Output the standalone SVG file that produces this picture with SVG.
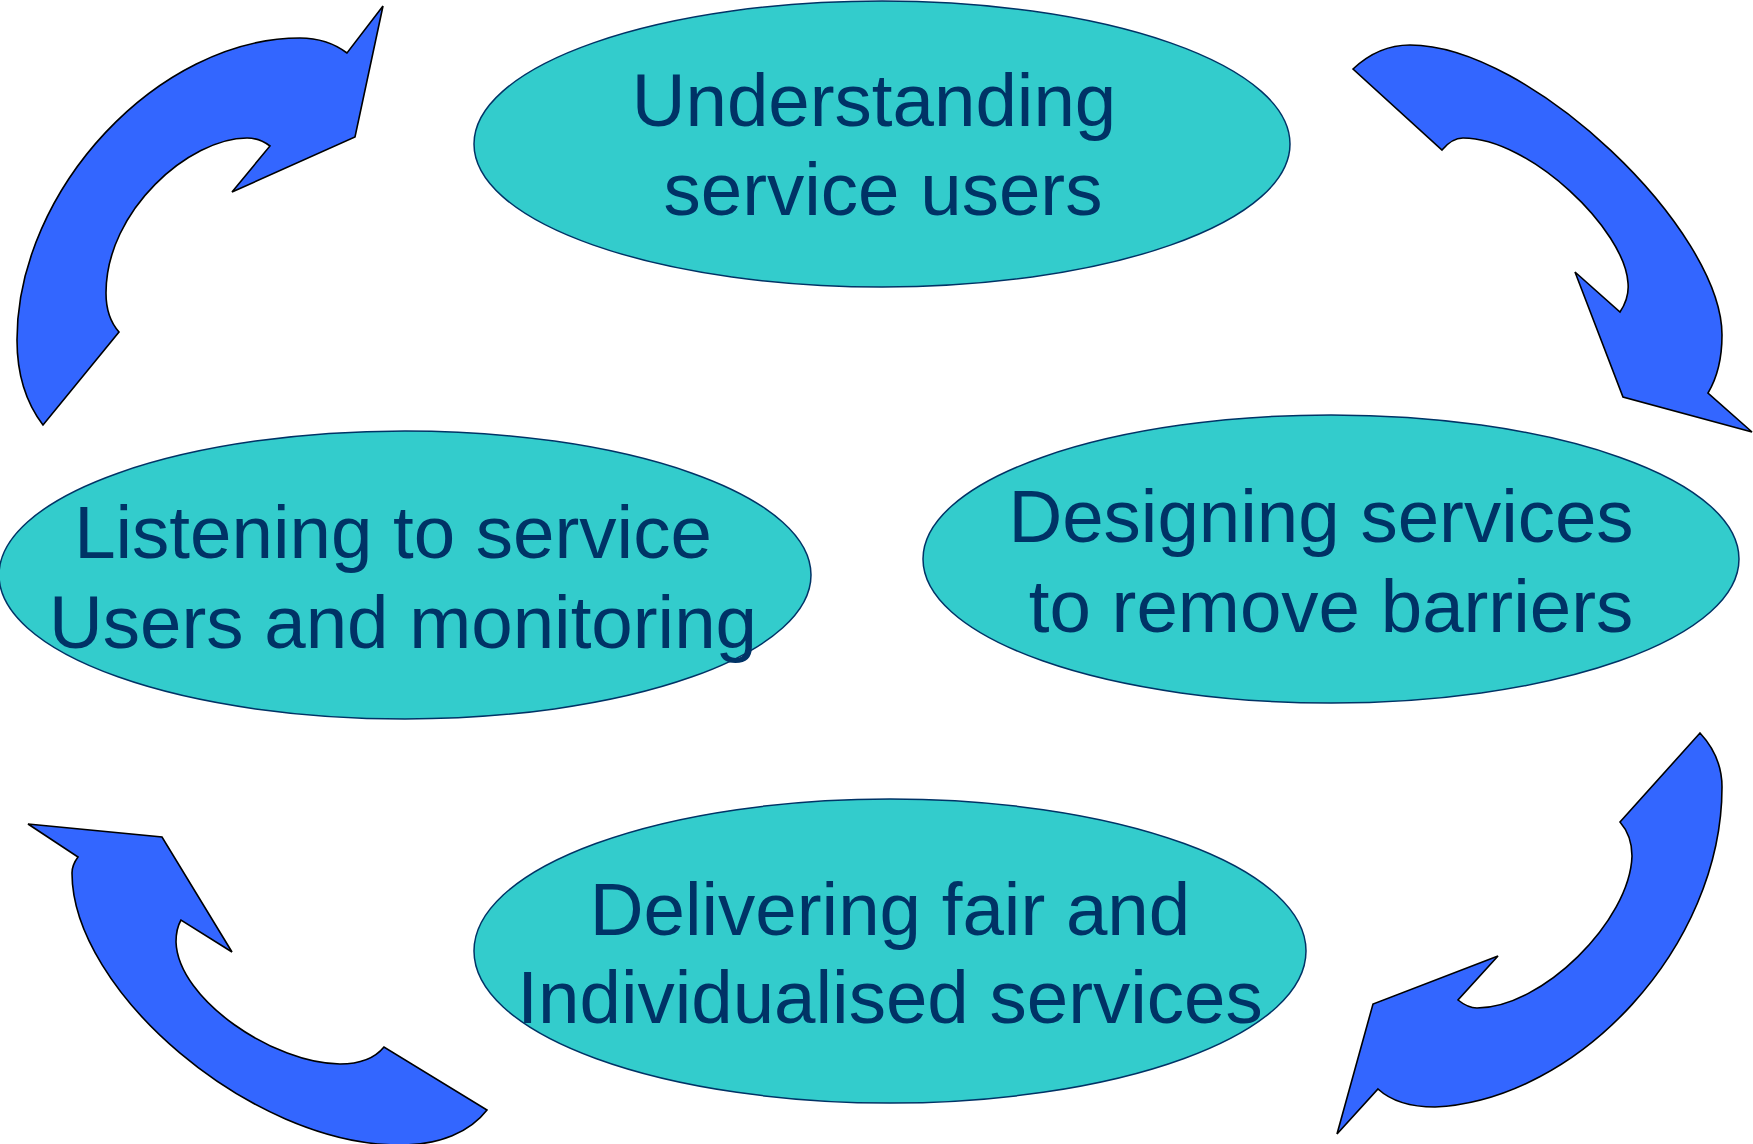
<svg xmlns="http://www.w3.org/2000/svg" width="1753" height="1144" viewBox="0 0 1753 1144">
<style>
.bg{fill:#ffffff}
.node ellipse{fill:#33CCCC;stroke:#003366;stroke-width:1.5}
.node text{font-family:"Liberation Sans",Arial,sans-serif;font-size:74.5px;fill:#003366;text-anchor:middle}
.arrow{fill:#3366FF;stroke:#000000;stroke-width:1.6;stroke-linejoin:miter}
</style>
<rect class="bg" x="0" y="0" width="1753" height="1144"/>
<g id="connectors">
<path id="arrow-top-left" class="arrow" d="M383,6 L355,137 L232,192 L270,146 C262,140 255,138 247,138 C190,138 106,210 106,293 C106,310 111,323 119,332 L43,425 C30,408 17,380 17,340 C17,189 159,38 300,38 C318,38 335,44 347,53 Z"/>
<path id="arrow-top-right" class="arrow" d="M1353,69 C1370,53 1390,45 1410,45 C1530,45 1722,230 1722,335 C1722,360 1717,378 1708,393 L1752,432 L1623,397 L1575,272 L1620,312 C1626,303 1629,293 1628,283 C1625,230 1530,138 1463,138 C1453,138 1447,144 1442,150 Z"/>
<path id="arrow-bottom-right" class="arrow" d="M1700,733 L1620,822 C1627,830 1632,842 1632,856 C1630,921 1542,1008 1477,1008 C1469,1008 1463,1004 1458,1000 L1498,956 L1373,1004 L1337,1134 L1378,1089 C1390,1100 1410,1107 1435,1107 C1578,1100 1722,947 1722,787 C1722,765 1713,747 1700,733 Z"/>
<path id="arrow-bottom-left" class="arrow" d="M28,824 L162,837 L232,952 L181,920 C177,927 176,934 176,942 C178,1000 275,1064 340,1064 C360,1064 375,1058 384,1047 L487,1110 C470,1132 440,1145 400,1145 C250,1145 72,990 72,873 C72,866 75,861 78,857 Z"/>
</g>
<g id="node-understanding" class="node">
<ellipse cx="882" cy="144" rx="408" ry="143"/>
<text x="874" y="126">Understanding</text>
<text x="883" y="215">service users</text>
</g>
<g id="node-listening" class="node">
<ellipse cx="405" cy="575" rx="406" ry="144"/>
<text x="393" y="558">Listening to service</text>
<text x="403" y="648">Users and monitoring</text>
</g>
<g id="node-designing" class="node">
<ellipse cx="1331" cy="559" rx="408" ry="144"/>
<text x="1321" y="542">Designing services</text>
<text x="1331" y="632">to remove barriers</text>
</g>
<g id="node-delivering" class="node">
<ellipse cx="890" cy="951" rx="416" ry="152"/>
<text x="890" y="935">Delivering fair and</text>
<text x="890" y="1023">Individualised services</text>
</g>
</svg>
